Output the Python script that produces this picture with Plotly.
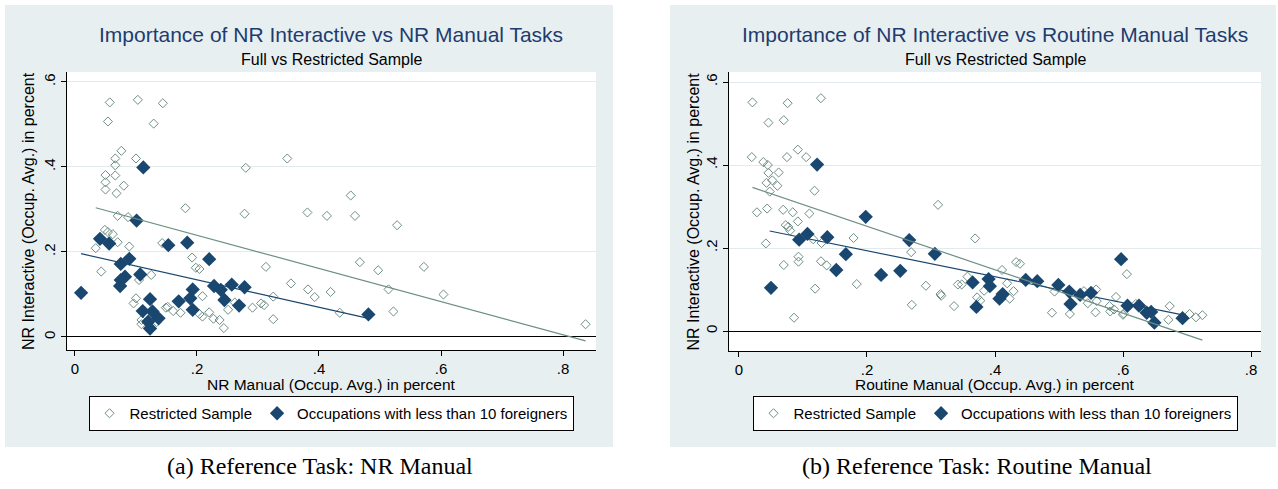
import plotly.graph_objects as go

# ---------------- data ----------------
# Panel (a): NR Interactive vs NR Manual
a_restricted_x = [0.057, 0.103, 0.144, 0.054, 0.129, 0.076, 0.066, 0.100, 0.066, 0.050,
                  0.066, 0.050, 0.080, 0.050, 0.068, 0.280, 0.181, 0.278, 0.070, 0.087,
                  0.049, 0.054, 0.062, 0.070, 0.034, 0.089, 0.143, 0.192, 0.198, 0.204,
                  0.043, 0.125, 0.105, 0.209, 0.100, 0.096, 0.149, 0.152, 0.161, 0.173,
                  0.204, 0.209, 0.220, 0.227, 0.237, 0.244, 0.251, 0.262, 0.291, 0.109,
                  0.109, 0.134, 0.313, 0.325, 0.354, 0.305, 0.310, 0.325, 0.381, 0.382,
                  0.393, 0.413, 0.452, 0.459, 0.528, 0.467, 0.497, 0.572, 0.514, 0.604,
                  0.419, 0.434, 0.522, 0.837, 0.348]
a_restricted_y = [0.552, 0.558, 0.550, 0.507, 0.502, 0.438, 0.420, 0.420, 0.404, 0.381,
                  0.380, 0.364, 0.356, 0.347, 0.338, 0.398, 0.303, 0.290, 0.285, 0.282,
                  0.252, 0.247, 0.242, 0.223, 0.209, 0.213, 0.221, 0.187, 0.163, 0.160,
                  0.154, 0.146, 0.134, 0.096, 0.091, 0.079, 0.069, 0.071, 0.061, 0.057,
                  0.054, 0.048, 0.058, 0.043, 0.040, 0.021, 0.064, 0.081, 0.069, 0.040,
                  0.030, 0.035, 0.165, 0.095, 0.126, 0.079, 0.075, 0.042, 0.293, 0.112,
                  0.094, 0.285, 0.333, 0.285, 0.263, 0.176, 0.157, 0.165, 0.112, 0.100,
                  0.106, 0.057, 0.060, 0.030, 0.420]
a_few_x = [0.112, 0.101, 0.041, 0.056, 0.153, 0.184, 0.220, 0.089, 0.075, 0.107,
           0.082, 0.075, 0.074, 0.010, 0.193, 0.189, 0.170, 0.123, 0.193, 0.111,
           0.127, 0.137, 0.120, 0.123, 0.228, 0.239, 0.257, 0.278, 0.245, 0.269, 0.481]
a_few_y = [0.399, 0.274, 0.231, 0.220, 0.216, 0.222, 0.183, 0.184, 0.172, 0.147,
           0.142, 0.134, 0.120, 0.104, 0.112, 0.091, 0.084, 0.089, 0.064, 0.061,
           0.060, 0.044, 0.036, 0.020, 0.120, 0.111, 0.123, 0.117, 0.087, 0.074, 0.053]
a_fit_restricted_x = [0.034, 0.837]
a_fit_restricted_y = [0.304, -0.009]
a_fit_few_x = [0.010, 0.481]
a_fit_few_y = [0.196, 0.044]

# Panel (b): NR Interactive vs Routine Manual
b_restricted_x = [0.021, 0.076, 0.128, 0.046, 0.070, 0.020, 0.092, 0.075, 0.105, 0.038,
                  0.045, 0.046, 0.062, 0.052, 0.043, 0.060, 0.048, 0.118, 0.028, 0.044,
                  0.069, 0.084, 0.110, 0.073, 0.077, 0.092, 0.080, 0.042, 0.116, 0.129,
                  0.179, 0.269, 0.093, 0.093, 0.070, 0.128, 0.137, 0.184, 0.119, 0.292,
                  0.270, 0.086, 0.311, 0.315, 0.316, 0.336, 0.342, 0.348, 0.357, 0.369,
                  0.433, 0.439, 0.411, 0.383, 0.372, 0.377, 0.419, 0.429, 0.423, 0.489,
                  0.493, 0.517, 0.539, 0.558, 0.545, 0.559, 0.557, 0.589, 0.579, 0.586,
                  0.580, 0.600, 0.601, 0.606, 0.608, 0.620, 0.673, 0.671, 0.704, 0.714, 0.724]
b_restricted_y = [0.551, 0.549, 0.561, 0.502, 0.508, 0.419, 0.437, 0.419, 0.419, 0.407,
                  0.400, 0.381, 0.382, 0.363, 0.357, 0.350, 0.336, 0.338, 0.286, 0.295,
                  0.292, 0.286, 0.283, 0.255, 0.251, 0.264, 0.242, 0.211, 0.221, 0.212,
                  0.224, 0.190, 0.179, 0.167, 0.159, 0.168, 0.158, 0.113, 0.102, 0.109,
                  0.063, 0.032, 0.304, 0.089, 0.085, 0.060, 0.112, 0.112, 0.131, 0.223,
                  0.166, 0.162, 0.147, 0.097, 0.081, 0.073, 0.115, 0.096, 0.078, 0.044,
                  0.095, 0.041, 0.096, 0.100, 0.067, 0.072, 0.045, 0.082, 0.060, 0.052,
                  0.047, 0.039, 0.042, 0.137, 0.059, 0.065, 0.060, 0.027, 0.041, 0.033, 0.038]
b_few_x = [0.122, 0.198, 0.266, 0.107, 0.094, 0.138, 0.167, 0.152, 0.222, 0.252,
           0.050, 0.306, 0.597, 0.365, 0.371, 0.390, 0.392, 0.407, 0.412, 0.448,
           0.466, 0.499, 0.516, 0.518, 0.533, 0.550, 0.607, 0.625, 0.637, 0.644, 0.649, 0.693]
b_few_y = [0.401, 0.275, 0.219, 0.234, 0.220, 0.226, 0.185, 0.147, 0.135, 0.145,
           0.104, 0.186, 0.173, 0.117, 0.058, 0.125, 0.108, 0.078, 0.089, 0.123,
           0.120, 0.111, 0.095, 0.065, 0.087, 0.092, 0.061, 0.061, 0.044, 0.046, 0.020, 0.031]
b_fit_restricted_x = [0.021, 0.724]
b_fit_restricted_y = [0.346, -0.022]
b_fit_few_x = [0.048, 0.693]
b_fit_few_y = [0.241, 0.039]

x_tick_vals = [0, 0.2, 0.4, 0.6, 0.8]
x_tick_text = ["0", ".2", ".4", ".6", ".8"]
y_tick_vals = [0, 0.2, 0.4, 0.6]
y_tick_text = ["0", ".2", ".4", ".6"]

titles = ["Importance of NR Interactive vs NR Manual Tasks",
          "Importance of NR Interactive vs Routine Manual Tasks"]
subtitle = "Full vs Restricted Sample"
x_titles = ["NR Manual (Occup. Avg.) in percent", "Routine Manual (Occup. Avg.) in percent"]
y_title = "NR Interactive (Occup. Avg.) in percent"
captions = ["(a) Reference Task: NR Manual", "(b) Reference Task: Routine Manual"]
legend_names = ["Restricted Sample", "Occupations with less than 10 foreigners"]

# ---------------- styling ----------------
W, H = 1278, 489
TEAL = "#6e8e84"
NAVY = "#1a476f"
PANEL_BG = "#e8eff1"
GRID = "#e2eaed"
TITLE_C = "#1e3c6e"
SANS = "Liberation Sans, Arial, sans-serif"
SERIF = "Liberation Serif, Times New Roman, serif"

def px(x):
    return x / W

def py(y):
    return 1 - y / H

fig = go.Figure()

panels = [
    dict(rx=a_restricted_x, ry=a_restricted_y, fx=a_few_x, fy=a_few_y,
         frx=a_fit_restricted_x, fry=a_fit_restricted_y, ffx=a_fit_few_x, ffy=a_fit_few_y,
         xa="x", ya="y", leg="legend"),
    dict(rx=b_restricted_x, ry=b_restricted_y, fx=b_few_x, fy=b_few_y,
         frx=b_fit_restricted_x, fry=b_fit_restricted_y, ffx=b_fit_few_x, ffy=b_fit_few_y,
         xa="x2", ya="y2", leg="legend2"),
]

for p in panels:
    fig.add_trace(go.Scatter(
        x=p["rx"], y=p["ry"], mode="markers", name=legend_names[0],
        xaxis=p["xa"], yaxis=p["ya"], legend=p["leg"],
        marker=dict(symbol="diamond-open", size=7, color=TEAL, line=dict(width=1, color=TEAL))))
    fig.add_trace(go.Scatter(
        x=p["fx"], y=p["fy"], mode="markers", name=legend_names[1],
        xaxis=p["xa"], yaxis=p["ya"], legend=p["leg"],
        marker=dict(symbol="diamond", size=11, color=NAVY)))
    fig.add_trace(go.Scatter(
        x=p["frx"], y=p["fry"], mode="lines", showlegend=False,
        xaxis=p["xa"], yaxis=p["ya"], line=dict(color=TEAL, width=1.2)))
    fig.add_trace(go.Scatter(
        x=p["ffx"], y=p["ffy"], mode="lines", showlegend=False,
        xaxis=p["xa"], yaxis=p["ya"], line=dict(color=NAVY, width=1.2)))

# geometry (pixels)
plot_l = [(67, 596, 72, 350), (729, 1261, 72, 351)]
x_ranges = [[-0.0131, 0.8541], [-0.0156, 0.8156]]
y_ranges = [[-0.0306, 0.6235], [-0.0482, 0.6241]]
panel_box = [(5, 613, 5, 447), (670, 1276, 5, 447)]

def xaxis_cfg(i):
    l, r, t, b = plot_l[i]
    return dict(domain=[px(l), px(r)], range=x_ranges[i], anchor="y" if i == 0 else "y2",
                showline=True, linecolor="black", linewidth=1, ticks="outside", ticklen=5,
                tickcolor="black", tickvals=x_tick_vals, ticktext=x_tick_text,
                ticklabelstandoff=0,
                showgrid=False, zeroline=False, tickfont=dict(size=15, family=SANS, color="black"))

def yaxis_cfg(i):
    l, r, t, b = plot_l[i]
    return dict(domain=[py(b), py(t)], range=y_ranges[i], anchor="x" if i == 0 else "x2",
                showline=True, linecolor="black", linewidth=1, ticks="outside", ticklen=5,
                tickcolor="black", tickvals=y_tick_vals, ticktext=y_tick_text, tickangle=-90,
                showgrid=True, gridcolor=GRID, gridwidth=1,
                zeroline=True, zerolinecolor="black", zerolinewidth=1.3,
                tickfont=dict(size=15, family=SANS, color="black"))

shapes = []
for i in range(2):
    x0, x1, y0, y1 = panel_box[i]
    shapes.append(dict(type="rect", xref="paper", yref="paper", x0=px(x0), x1=px(x1),
                       y0=py(y1), y1=py(y0), fillcolor=PANEL_BG, line=dict(width=0), layer="below"))
    l, r, t, b = plot_l[i]
    shapes.append(dict(type="rect", xref="paper", yref="paper", x0=px(l), x1=px(r),
                       y0=py(b), y1=py(t), fillcolor="white", line=dict(width=0), layer="below"))

annotations = []
centers = [331, 995]
ytitle_x = [28, 693]
cap_centers = [320, 977]
for i in range(2):
    l, r, t, b = plot_l[i]
    annotations.append(dict(text=titles[i], x=px(centers[i]), y=py(34), xref="paper", yref="paper",
                            showarrow=False, xanchor="center", yanchor="middle",
                            font=dict(size=21, family=SANS, color=TITLE_C)))
    annotations.append(dict(text=subtitle, x=px(centers[i]), y=py(59), xref="paper", yref="paper",
                            showarrow=False, xanchor="center", yanchor="middle",
                            font=dict(size=16, family=SANS, color="black")))
    annotations.append(dict(text=x_titles[i], x=px(centers[i]), y=py(384), xref="paper", yref="paper",
                            showarrow=False, xanchor="center", yanchor="middle",
                            font=dict(size=15.5, family=SANS, color="black")))
    annotations.append(dict(text=y_title, x=px(ytitle_x[i]), y=py((t + b) / 2), xref="paper", yref="paper",
                            showarrow=False, xanchor="center", yanchor="middle", textangle=-90,
                            font=dict(size=16, family=SANS, color="black")))
    annotations.append(dict(text=captions[i], x=px(cap_centers[i]), y=py(466), xref="paper", yref="paper",
                            showarrow=False, xanchor="center", yanchor="middle",
                            font=dict(size=24, family=SERIF, color="black")))

legend_common = dict(orientation="h", xanchor="center", yanchor="top", bgcolor="white",
                     bordercolor="black", borderwidth=1,
                     font=dict(size=15, family=SANS, color="black"))

fig.update_layout(
    width=W, height=H, margin=dict(l=0, r=0, t=0, b=0),
    paper_bgcolor="white", plot_bgcolor="rgba(0,0,0,0)",
    xaxis=xaxis_cfg(0), yaxis=yaxis_cfg(0), xaxis2=xaxis_cfg(1), yaxis2=yaxis_cfg(1),
    shapes=shapes, annotations=annotations,
    legend=dict(x=px(331), y=py(396), **legend_common),
    legend2=dict(x=px(995), y=py(396), **legend_common),
    showlegend=True,
)

fig.write_html("out.html", config={"displayModeBar": False},
               post_script="document.body.style.margin='0px';")
